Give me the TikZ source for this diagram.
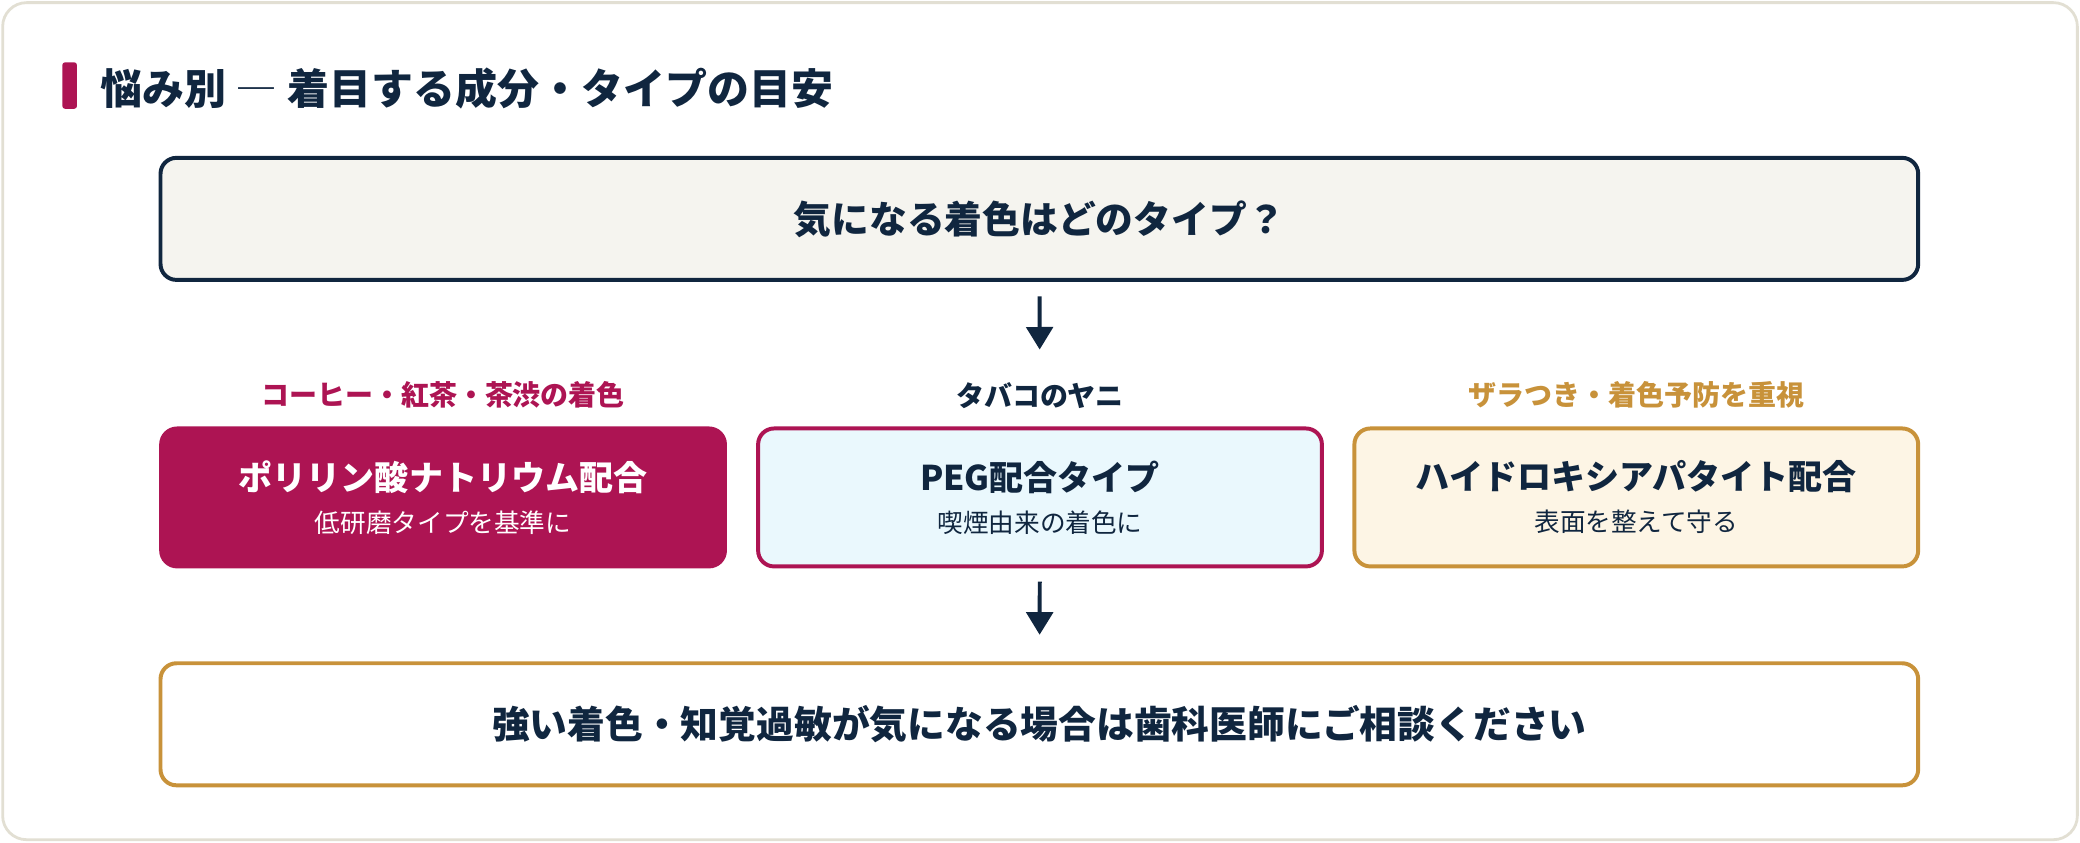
\documentclass[tikz,border=0pt]{standalone}
\usepackage{fontspec}
\setmainfont{Noto Sans CJK JP}
\usetikzlibrary{arrows.meta,positioning}
\definecolor{navy}{HTML}{10263F}
\definecolor{plum}{HTML}{AD1453}
\definecolor{gold}{HTML}{C8923A}
\definecolor{paper}{HTML}{F5F4EF}
\definecolor{skyfill}{HTML}{EAF8FD}
\definecolor{creamfill}{HTML}{FDF5E5}
\definecolor{cardline}{HTML}{E2DFD3}
\newcommand{\kindtext}[2]{{\fontsize{7.3}{9}\selectfont\bfseries #1}\\[-3pt]{\fontsize{5.5}{7}\selectfont #2}}
\begin{document}
\begin{tikzpicture}
[node distance=0.13cm,
wide/.style={rounded corners=0.12cm,line width=0.85pt,minimum width=13.25cm,minimum height=0.92cm,inner sep=0pt,text=navy,font=\fontsize{8.1}{10}\selectfont\bfseries},
kind/.style={rounded corners=0.12cm,line width=0.85pt,minimum width=4.25cm,minimum height=1.04cm,inner sep=0pt,align=center,text=navy},
head/.style={inner sep=0pt,font=\fontsize{6}{8}\selectfont\bfseries},
%
arr/.style={line width=0.85pt,draw=navy,-{Triangle[width=0.2cm,length=0.17cm]}}]
%
\useasboundingbox (0,0) rectangle (15.68,6.35);
\draw[cardline,line width=0.6pt,fill=white,rounded corners=0.18cm] (0.02,0.02) rectangle (15.66,6.33);
%
\node (bar) [fill=plum,rounded corners=0.02cm,minimum width=0.11cm,minimum height=0.35cm,inner sep=0pt] at (0.525,5.705) {};
\node (ttl) [anchor=west,inner sep=0pt,text=navy,font=\fontsize{9}{11}\selectfont\bfseries] at (0.75,5.68) {悩み別 {\mdseries ―} 着目する成分・タイプの目安};
%
\node (q) [wide,draw=navy,fill=paper] at (7.835,4.70) {気になる着色はどのタイプ？};
%
\node (k1) [kind,fill=plum,draw=plum,text=white] at (3.34,2.60) {\kindtext{ポリリン酸ナトリウム配合}{低研磨タイプを基準に}};
\node (k2) [kind,draw=plum,fill=skyfill] at (7.84,2.60) {\kindtext{PEG配合タイプ}{喫煙由来の着色に}};
\node (k3) [kind,draw=gold,fill=creamfill] at (12.335,2.60) {\kindtext{ハイドロキシアパタイト配合}{表面を整えて守る}};
%
\node (h1) [head,text=plum,above=of k1] {コーヒー・紅茶・茶渋の着色};
\node (h2) [head,text=navy,above=of k2] {タバコのヤニ};
\node (h3) [head,text=gold,above=of k3] {ザラつき・着色予防を重視};
%
\node (fin) [wide,draw=gold,fill=white] at (7.835,0.89) {強い着色・知覚過敏が気になる場合は歯科医師にご相談ください};
%
\draw[arr,shorten <=0.11cm,shorten >=0.58cm] (q) -- (k2);
\draw[arr,shorten <=0.10cm,shorten >=0.20cm] (k2) -- (fin);
\end{tikzpicture}
\end{document}
